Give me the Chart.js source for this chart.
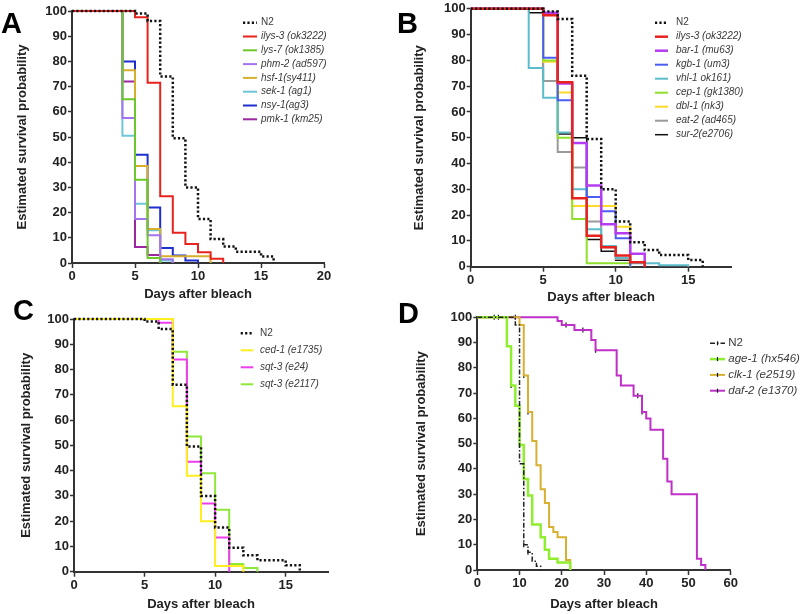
<!DOCTYPE html>
<html>
<head>
<meta charset="utf-8">
<script src="https://cdn.jsdelivr.net/npm/chart.js@4.4.1/dist/chart.umd.min.js"></script>
<style>
  html, body { margin: 0; padding: 0; background: #fff; overflow: hidden; }
  #wrap { position: relative; width: 800px; height: 614px; }
  canvas { position: absolute; }
  .tag { position: absolute; font: bold 29px/29px "Liberation Sans", Arial, sans-serif; color: #000; }
</style>
</head>
<body>
<div id="wrap">
  <canvas id="chartA" width="400" height="306" style="left:0;top:0"></canvas>
  <canvas id="chartB" width="400" height="309" style="left:400px;top:0"></canvas>
  <canvas id="chartC" width="400" height="314" style="left:0;top:300px"></canvas>
  <canvas id="chartD" width="400" height="314" style="left:400px;top:300px"></canvas>
  <div class="tag" style="left:1px;top:9px">A</div>
  <div class="tag" style="left:397px;top:9px">B</div>
  <div class="tag" style="left:13px;top:296px">C</div>
  <div class="tag" style="left:398px;top:299px">D</div>
</div>
<script>
// Kaplan-Meier curves, [day, % surviving after the drop on that day]
const yTicks = [0, 10, 20, 30, 40, 50, 60, 70, 80, 90, 100];

// shared between A, B and C
const n2 = [[0,100],[5,99],[6,96],[7,74],[8,49.5],[9,30],[10,17.5],[11,9.5],[12,6.5],[13,4.5],[15,2.6],[16,0]];
const ilys3 = [[0,100],[5,97.5],[6,71.5],[7,26.5],[8,12],[9,7.5],[10,4.3],[11,1.7],[12,0]];

// panel A
const lys7 = [[0,100],[4,65],[5,33],[6,2],[7,0]];
const phm2 = [[0,100],[4,57.5],[5,17.5],[6,11],[7,1.5],[8,0]];
const hsf1 = [[0,100],[4,76.5],[5,38.5],[6,13.5],[7,2.7],[11,0]];
const sek1 = [[0,100],[4,50.5],[5,23.5],[6,13],[7,1],[8,0]];
const nsy1 = [[0,100],[4,80],[5,43],[6,22],[7,6],[8,3],[9,1],[10,0]];
const pmk1 = [[0,100],[4,72],[5,6.3],[6,3.2],[7,0]];

// panel B
const bar1 = [[0,100],[5,98.5],[6,71],[7,48],[8,31.5],[9,16.5],[10,13],[11,5],[12,0]];
const kgb1 = [[0,100],[5,81],[6,64.5],[7,48],[8,27],[9,21.5],[10,11],[11,0]];
const vhl1 = [[0,100],[4,77],[5,65.5],[6,52],[7,30],[8,14.5],[9,8],[10,3.5],[11,1.3],[13,0.6],[15,0]];
const cep1 = [[0,100],[5,80],[6,50],[7,18.5],[8,1.3],[11,0]];
const dbl1 = [[0,100],[5,79.5],[6,67.5],[7,23.5],[10,15.5],[11,0]];
const eat2 = [[0,100],[5,72],[6,44.5],[7,38.5],[8,17.5],[9,7.5],[10,3],[11,0]];
const sur2 = [[0,100],[4,98.5],[5,72],[6,51.5],[7,50],[8,10.5],[9,6],[10,2.5],[11,0]];

// panel C
const ced1 = [[0,100],[7,65.5],[8,38],[9,20],[10,2.3],[12,0]];
const sqt3e24 = [[0,100],[6,98.5],[7,84],[8,43.5],[9,27],[10,13.5],[11,0]];
const sqt3e2117 = [[0,100],[7,87],[8,53.5],[9,39],[10,24.5],[11,3],[12,1.5],[13,0]];

// panel D
const n2D = [[0,100],[9,97],[10,42],[11,10],[12,7],[13,3.5],[14,1.5],[15,0]];
const age1 = [[0,100],[7,88.5],[8,73],[9,65],[10,49.5],[11,36],[12,29.5],[13,18],[15,13],[16,8],[17,4.5],[19,3],[22,0]];
const clk1 = [[0,100],[10,97],[11,77],[12,62.5],[13,51],[14,41.5],[15,32],[16,26.5],[17,17],[18,15],[19,13],[21,4],[22,0]];
const daf2 = [[0,100],[19,98.5],[20,97],[23,95],[27,91],[28,87],[33,77],[34,73],[37,69],[39,62.5],[40,60],[41,55.5],[44,44],[45,35],[46,30],[52,4.5],[53,2],[54,0]];
// censored animals (tick marks)
const censorD = [[4,100],[5,100],[9,100],[11,10],[12,7],[8,73],[10,49.5],[11,77],[12,62.5],[21,97],[25,95],[28,87],[38,69],[39,62.5]];

const FONT = '"Liberation Sans", Arial, Helvetica, sans-serif';
Chart.defaults.font.family = FONT;

function pts(arr) { return arr.map(p => ({ x: p[0], y: p[1] })); }

function curve(label, arr, color, extra) {
  return Object.assign({
    label: label,
    data: pts(arr),
    borderColor: color,
    borderWidth: 2,
    stepped: true,
    pointRadius: 0,
    fill: false,
    clip: 4
  }, extra || {});
}

const dotted = { borderColor: '#111', borderWidth: 2.5, borderDash: [2.2, 2.2] };

// draws the legend inside the plot like the original figure
const kmLegend = {
  id: 'kmLegend',
  afterDraw(chart, args, o) {
    const ctx = chart.ctx;
    let row = 0;
    chart.data.datasets.forEach(ds => {
      if (ds.noLegend) return;
      const y = o.y + row * o.dy;
      ctx.save();
      ctx.strokeStyle = ds.borderColor;
      ctx.lineWidth = ds.borderWidth;
      ctx.setLineDash(ds.borderDash || []);
      ctx.beginPath();
      ctx.moveTo(o.x, y);
      ctx.lineTo(o.x + o.len, y);
      ctx.stroke();
      if (o.tick) {
        ctx.setLineDash([]);
        ctx.strokeStyle = '#111';
        ctx.lineWidth = 1.2;
        ctx.beginPath();
        ctx.moveTo(o.x + o.len / 2, y - 2);
        ctx.lineTo(o.x + o.len / 2, y + 2);
        ctx.stroke();
      }
      ctx.fillStyle = '#3a3a3a';
      ctx.font = (ds.label === 'N2' ? '' : 'italic ') + o.size + 'px ' + FONT;
      ctx.textBaseline = 'middle';
      ctx.fillText(ds.label, o.x + o.len + o.gap, y);
      ctx.restore();
      row++;
    });
  }
};

function makeChart(id, datasets, p) {
  return new Chart(document.getElementById(id), {
    type: 'line',
    data: { datasets: datasets },
    plugins: [kmLegend],
    options: {
      responsive: false,
      animation: false,
      events: [],
      layout: { padding: { left: p.padL, top: p.padT, right: p.padR, bottom: 0 } },
      plugins: {
        legend: { display: false },
        tooltip: { enabled: false },
        kmLegend: p.legend
      },
      scales: {
        x: {
          type: 'linear',
          min: 0,
          max: p.xMax,
          afterBuildTicks: s => { s.ticks = p.xTicks.map(v => ({ value: v })); },
          afterFit: s => { s.height = p.xH; },
          grid: { drawOnChartArea: false, drawTicks: true, tickLength: 5, tickWidth: 1.5, tickColor: '#333' },
          border: { color: '#333', width: 2 },
          ticks: { color: '#222', font: { size: 13, weight: 'bold' }, padding: 1, maxRotation: 0, autoSkip: false },
          title: { display: true, text: 'Days after bleach', color: '#222', font: { size: 13, weight: 'bold' }, padding: { top: 4, bottom: p.titleB } }
        },
        y: {
          min: 0,
          max: 100,
          afterBuildTicks: s => { s.ticks = yTicks.map(v => ({ value: v })); },
          afterFit: s => { s.width = p.yW; },
          grid: { drawOnChartArea: false, drawTicks: true, tickLength: 4, tickWidth: 1.5, tickColor: '#333' },
          border: { color: '#333', width: 2 },
          ticks: { color: '#222', font: { size: 13, weight: 'bold' }, padding: 1 },
          title: { display: true, text: 'Estimated survival probability', color: '#222', font: { size: 13, weight: 'bold' }, padding: { top: 4, bottom: 4 } }
        }
      }
    }
  });
}

// A
makeChart('chartA', [
  curve('N2', n2, '#111', dotted),
  curve('ilys-3 (ok3222)', ilys3, '#e8231e'),
  curve('lys-7 (ok1385)', lys7, '#6cc82a'),
  curve('phm-2 (ad597)', phm2, '#a673f0'),
  curve('hsf-1(sy411)', hsf1, '#d6b02c'),
  curve('sek-1 (ag1)', sek1, '#6cc7d6'),
  curve('nsy-1(ag3)', nsy1, '#1f2fcf'),
  curve('pmk-1 (km25)', pmk1, '#9c27a0')
], { padL: 11, padT: 11, padR: 76, yW: 61, xH: 43, xMax: 20, xTicks: [0, 5, 10, 15, 20], titleB: 4,
     legend: { x: 243, y: 22.7, dy: 13.8, len: 14, gap: 4, size: 10 } });

// B
makeChart('chartB', [
  curve('N2', n2, '#111', dotted),
  curve('ilys-3 (ok3222)', ilys3, '#e8231e', { borderWidth: 2.5 }),
  curve('bar-1 (mu63)', bar1, '#b53cf0', { borderWidth: 2.5 }),
  curve('kgb-1 (um3)', kgb1, '#4a5cf2'),
  curve('vhl-1 ok161)', vhl1, '#5cbccc'),
  curve('cep-1 (gk1380)', cep1, '#8ee02a'),
  curve('dbl-1 (nk3)', dbl1, '#ffd92a'),
  curve('eat-2 (ad465)', eat2, '#9a9a9a'),
  curve('sur-2(e2706)', sur2, '#111', { borderWidth: 1.5 })
], { padL: 7.6, padT: 5.3, padR: 68.3, yW: 63.1, xH: 42.3, xMax: 18, xTicks: [0, 5, 10, 15], titleB: 4,
     legend: { x: 255, y: 22.7, dy: 14, len: 13, gap: 8, size: 10 } });

// C
makeChart('chartC', [
  curve('N2', n2, '#111', dotted),
  curve('ced-1 (e1735)', ced1, '#ffee20'),
  curve('sqt-3 (e24)', sqt3e24, '#ee3cee'),
  curve('sqt-3 (e2117)', sqt3e2117, '#8ee83a')
], { padL: 14.3, padT: 19, padR: 72, yW: 59.7, xH: 42.3, xMax: 18, xTicks: [0, 5, 10, 15], titleB: 2,
     legend: { x: 240.7, y: 33.3, dy: 17, len: 12.6, gap: 6.7, size: 10 } });

// D
makeChart('chartD', [
  curve('N2', n2D, '#222', { borderWidth: 1.5, borderDash: [5, 2, 1.5, 2] }),
  curve('age-1 (hx546)', age1, '#90ee30', { borderWidth: 2.5 }),
  curve('clk-1 (e2519)', clk1, '#d8b030'),
  curve('daf-2 (e1370)', daf2, '#c030c8'),
  { label: 'censored', data: pts(censorD), type: 'line', showLine: false, noLegend: true, clip: 4,
    pointStyle: 'line', rotation: 90, pointRadius: 2.5, pointBorderColor: '#111', pointBorderWidth: 1.2, borderColor: '#111' }
], { padL: 9.3, padT: 17.3, padR: 69.3, yW: 68, xH: 44, xMax: 60, xTicks: [0, 10, 20, 30, 40, 50, 60], titleB: 2,
     legend: { x: 310, y: 43.3, dy: 15.8, len: 15, gap: 3.3, size: 11.5, tick: true } });
</script>
</body>
</html>
